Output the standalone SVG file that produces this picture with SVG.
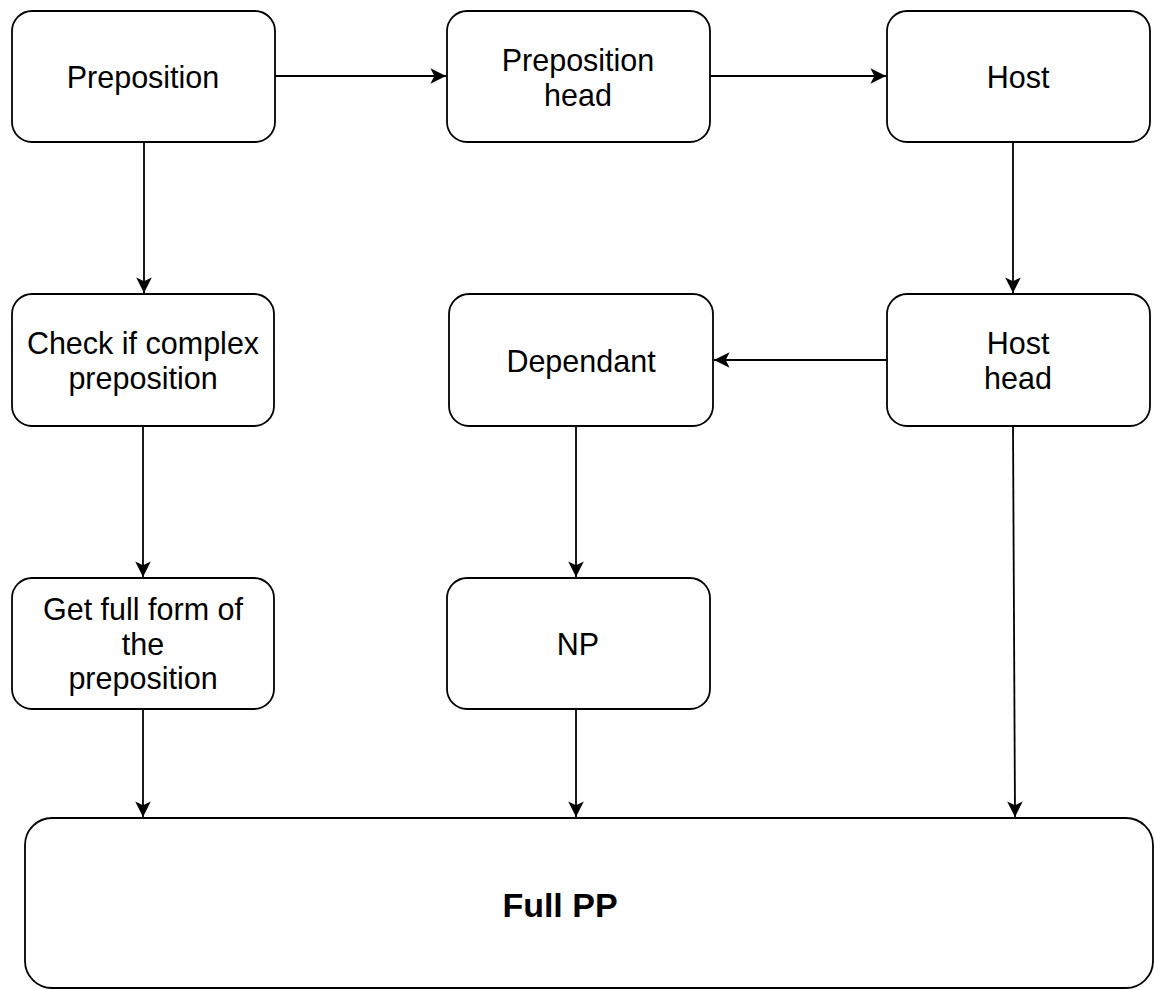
<svg xmlns="http://www.w3.org/2000/svg" width="1154" height="990" viewBox="0 0 1154 990">
<style>
.box{fill:#fff;stroke:#000;stroke-width:1.8}
.t{font-family:"Liberation Sans",Arial,Helvetica,sans-serif;font-size:30.5px;fill:#000;text-anchor:middle}
.b{font-weight:bold;font-size:34px}
.c{fill:none;stroke:#000;stroke-width:1.8}
</style>
<defs>
<marker id="arr" markerUnits="userSpaceOnUse" markerWidth="20" markerHeight="20" viewBox="-16 -9 18 18" refX="0" refY="0" orient="auto">
<path d="M0,0 L-14,-7 L-10.5,0 L-14,7 Z" fill="#000"/>
</marker>
</defs>
<rect width="1154" height="990" fill="#fff"/>
<g id="connectors">
<path class="c" d="M275,76 L446,76" marker-end="url(#arr)"/>
<path class="c" d="M710,76 L886,76" marker-end="url(#arr)"/>
<path class="c" d="M144,143 L144,293" marker-end="url(#arr)"/>
<path class="c" d="M1013,142 L1013,293" marker-end="url(#arr)"/>
<path class="c" d="M887,360 L714,360" marker-end="url(#arr)"/>
<path class="c" d="M143,426 L143,577" marker-end="url(#arr)"/>
<path class="c" d="M576,426 L576,577" marker-end="url(#arr)"/>
<path class="c" d="M143,709 L143,817" marker-end="url(#arr)"/>
<path class="c" d="M576,709 L576,817" marker-end="url(#arr)"/>
<path class="c" d="M1013,426 L1015,817" marker-end="url(#arr)"/>
</g>
<g id="preposition">
<rect class="box" x="12" y="11" width="263" height="131" rx="20"/>
<text class="t" x="143" y="88">Preposition</text>
</g>
<g id="preposition-head">
<rect class="box" x="447" y="11" width="263" height="131" rx="20"/>
<text class="t" x="578" y="71">Preposition</text>
<text class="t" x="578" y="106">head</text>
</g>
<g id="host">
<rect class="box" x="887" y="11" width="263" height="131" rx="20"/>
<text class="t" x="1018" y="88">Host</text>
</g>
<g id="check-complex">
<rect class="box" x="12" y="294" width="262" height="132" rx="20"/>
<text class="t" x="143" y="354">Check if complex</text>
<text class="t" x="143" y="389">preposition</text>
</g>
<g id="dependant">
<rect class="box" x="449" y="294" width="264" height="132" rx="20"/>
<text class="t" x="581" y="372">Dependant</text>
</g>
<g id="host-head">
<rect class="box" x="887" y="294" width="263" height="132" rx="20"/>
<text class="t" x="1018" y="354">Host</text>
<text class="t" x="1018" y="389">head</text>
</g>
<g id="get-full-form">
<rect class="box" x="12" y="578" width="262" height="131" rx="20"/>
<text class="t" x="143" y="620">Get full form of</text>
<text class="t" x="143" y="655">the</text>
<text class="t" x="143" y="689">preposition</text>
</g>
<g id="np">
<rect class="box" x="447" y="578" width="263" height="131" rx="20"/>
<text class="t" x="578" y="655">NP</text>
</g>
<g id="full-pp">
<rect class="box" x="25" y="818" width="1128" height="170" rx="27"/>
<text class="t b" x="560" y="917">Full PP</text>
</g>
</svg>
